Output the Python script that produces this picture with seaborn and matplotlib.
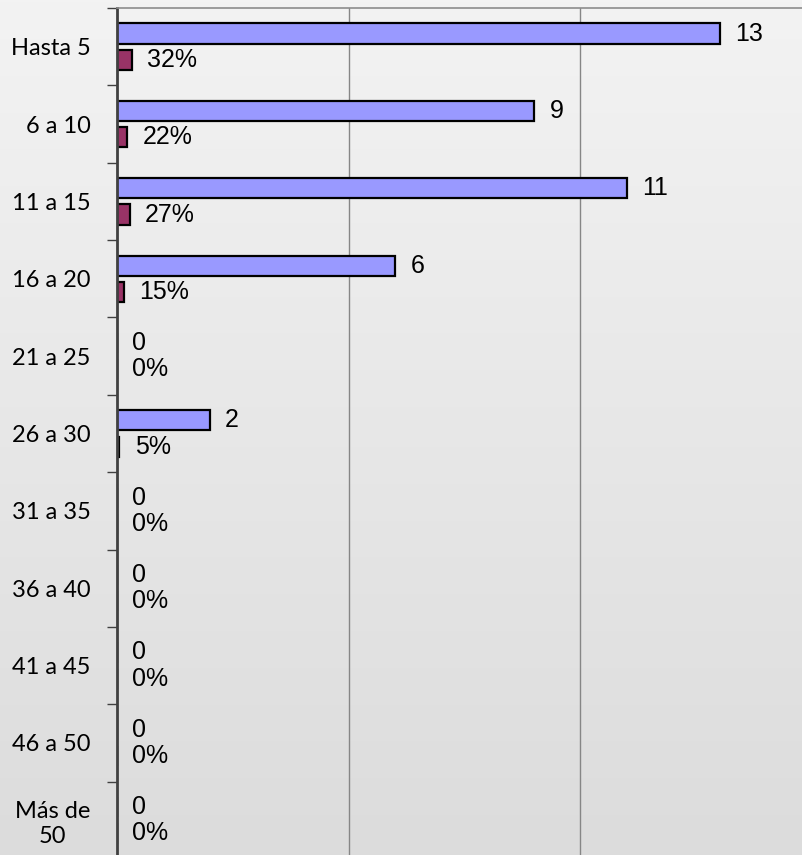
import numpy as np
import pandas as pd
import matplotlib
matplotlib.use("Agg")
import matplotlib.pyplot as plt
from matplotlib.colors import LinearSegmentedColormap
import seaborn as sns

categories = ["Hasta 5", "6 a 10", "11 a 15", "16 a 20", "21 a 25", "26 a 30",
              "31 a 35", "36 a 40", "41 a 45", "46 a 50", "Más de\n50"]
counts = [13, 9, 11, 6, 0, 2, 0, 0, 0, 0, 0]
percents = [32, 22, 27, 15, 0, 5, 0, 0, 0, 0, 0]

df = pd.DataFrame({
    "cat": categories * 2,
    "value": counts + [p / 100 for p in percents],
    "serie": ["n"] * len(categories) + ["pct"] * len(categories),
})

sns.set_style("white")
plt.rcParams["font.family"] = ["Liberation Sans", "DejaVu Sans"]

W, H = 803, 855
fig = plt.figure(figsize=(W / 100, H / 100), dpi=100)

# gradient background
bg = fig.add_axes([0, 0, 1, 1], zorder=-10)
cmap = LinearSegmentedColormap.from_list("g", ["#F3F3F3", "#DCDCDC"])
bg.imshow(np.linspace(0, 1, 256).reshape(-1, 1), aspect="auto", cmap=cmap,
          extent=[0, 1, 0, 1], origin="upper")
bg.axis("off")

left = 117 / W
top_px, bot_px = 8, 859
ax = fig.add_axes([left, 1 - bot_px / H, 1 - left, (bot_px - top_px) / H])
ax.patch.set_alpha(0)

sns.barplot(data=df, y="cat", x="value", hue="serie", order=categories,
            palette={"n": "#9999FF", "pct": "#993366"}, orient="h",
            saturation=1, width=0.68, gap=0.235, edgecolor="black",
            linewidth=1.6, legend=False, ax=ax)

ax.set_xlim(0, (W - 117) / 46.35)
ax.set_ylim(len(categories) - 0.5, -0.5)
ax.set_xlabel("")
ax.set_ylabel("")

for cont, labs in zip(ax.containers, [[str(c) for c in counts],
                                      [f"{p}%" for p in percents]]):
    ax.bar_label(cont, labels=labs, padding=11, fontsize=18,
                 family="Liberation Sans", color="black")

ax.set_xticks([5, 10])
ax.xaxis.grid(True, color="#868686", linewidth=1)
ax.tick_params(axis="x", length=0, labelbottom=False)
ax.set_axisbelow(True)

ax.set_yticks(range(len(categories)))
ax.set_yticks(np.arange(-0.5, len(categories) + 0.5, 1), minor=True)
ax.tick_params(axis="y", which="major", length=0, pad=19)
ax.tick_params(axis="y", which="minor", length=7, width=1, color="#404040",
               direction="out", left=True)
ax.set_yticklabels(categories, fontsize=17, family="Lato", color="black")
for t in ax.get_yticklabels():
    t.set_multialignment("center")

for s in ["right", "bottom"]:
    ax.spines[s].set_visible(False)
ax.spines["top"].set_color("#8C8C8C")
ax.spines["top"].set_linewidth(1.2)
ax.spines["left"].set_color("#404040")
ax.spines["left"].set_linewidth(2)

fig.savefig("out.png", dpi=100)
